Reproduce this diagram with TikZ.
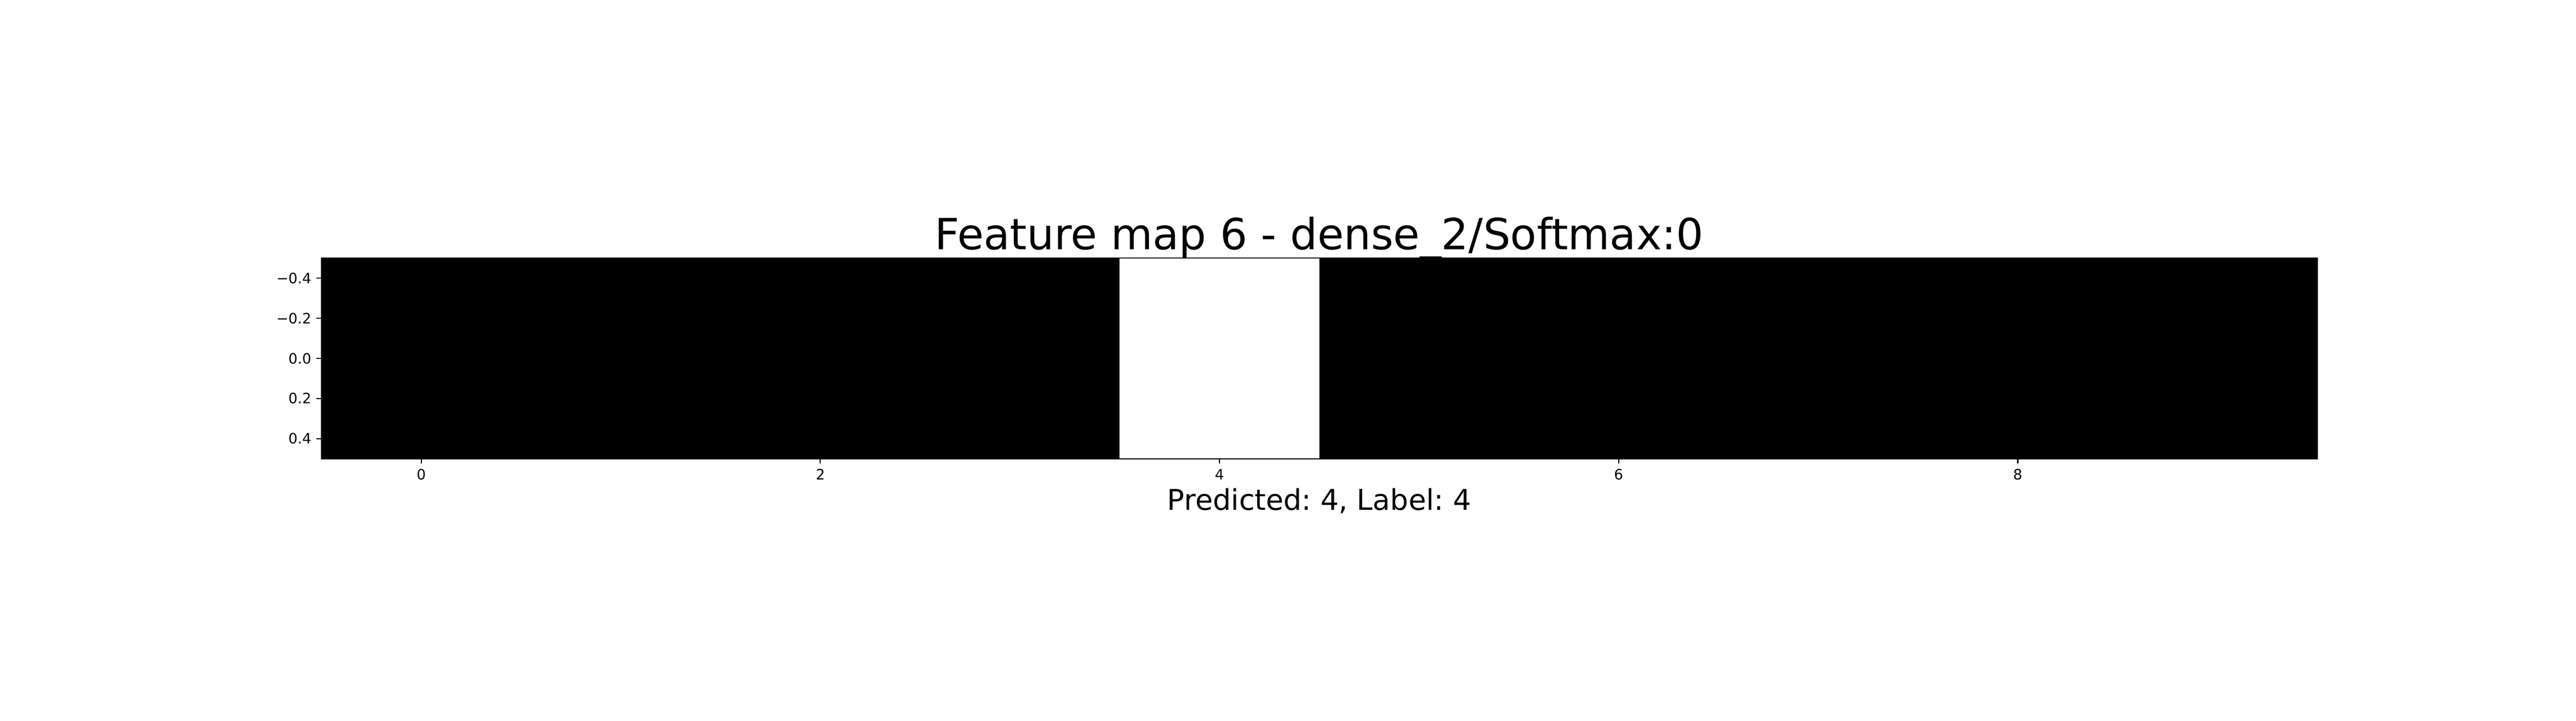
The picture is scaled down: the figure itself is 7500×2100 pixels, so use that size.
\documentclass[tikz,border=0pt]{standalone}
\usepackage{fontspec}
\setmainfont{DejaVu Sans}
\frenchspacing
\begin{document}
\begin{tikzpicture}[x=0.01cm,y=-0.01cm,
  spine/.style={line width=0.948pt, draw=black},
  tickmark/.style={line width=0.948pt, draw=black},
  ticklbl/.style={font=\fontsize{11.86pt}{14pt}\selectfont, inner sep=0pt},
  titlelbl/.style={font=\fontsize{35.57pt}{42pt}\selectfont, inner sep=0pt, anchor=base},
  xlbl/.style={font=\fontsize{23.7pt}{28pt}\selectfont, inner sep=0pt, anchor=base}]
\useasboundingbox (0,0) rectangle (7500,2100);
\fill[white] (0,0) rectangle (7500,2100);
% heatmap cells
\fill[black] (936,752) rectangle (6746,1336);
\fill[white] (3260,752) rectangle (3841,1336);
% axes frame
\draw[spine] (936,752) rectangle (6746,1336);
% x ticks
\foreach \v/\n in {0/xa,2/xb,4/xc,6/xd,8/xe}{
  \coordinate (\n) at ({936+(\v+0.5)*581},1336);
  \draw[tickmark] (\n) -- ++(0,14.6);
  \node[ticklbl, anchor=north] (\n l) at ({936+(\v+0.5)*581},1366) {\v};
}
% y ticks
\foreach \y/\t/\n in {810.4/−0.4/ya,927.2/−0.2/yb,1044/0.0/yc,1160.8/0.2/yd,1277.6/0.4/ye}{
  \coordinate (\n) at (936,\y);
  \draw[tickmark] (\n) -- ++(-14.6,0);
  \node[ticklbl, anchor=east] (\n l) at (907,\y) {\t};
}
\node[titlelbl] (title) at (3841,727) {Feature map 6 - dense\_2/Softmax:0};
\node[xlbl] (xlabel) at (3841,1485) {Predicted: 4, Label: 4};
\end{tikzpicture}
\end{document}
